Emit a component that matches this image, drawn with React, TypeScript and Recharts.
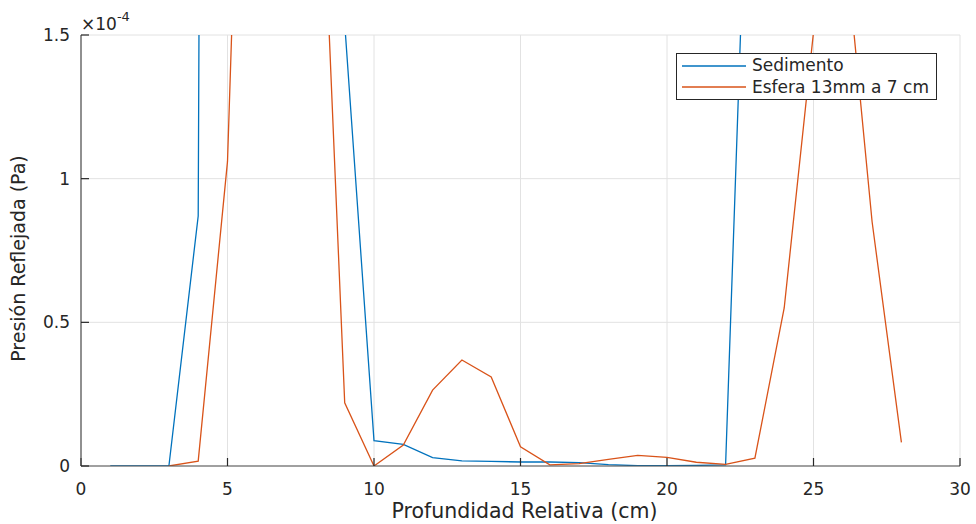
import { LineChart, Line, XAxis, YAxis, CartesianGrid, Legend, Label } from 'recharts'

// depth (cm) and reflected pressure, in units of 1e-4 Pa
const depthCm = [1, 2, 3, 4, 5, 6, 7, 8, 9, 10, 11, 12, 13, 14, 15, 16, 17, 18, 19, 20, 21, 22, 23, 24, 25, 26, 27, 28]
const sedimento = [0, 0, 0, 0.87, 25, 25, 25, 20, 1.54, 0.088, 0.075, 0.029, 0.018, 0.016, 0.014, 0.014, 0.012, 0.005, 0.001, 0.001, 0.002, 0.004, 2.95, 12, 15, 15, 10, 6]
const esfera = [null, null, 0, 0.017, 1.06, 4.2, 5, 2.65, 0.22, 0, 0.073, 0.264, 0.369, 0.31, 0.067, 0.004, 0.008, 0.023, 0.037, 0.03, 0.013, 0.006, 0.027, 0.55, 1.51, 1.91, 0.85, 0.082]
const seriesNames = ['Sedimento', 'Esfera 13mm a 7 cm']
const xTicks = [0, 5, 10, 15, 20, 25, 30]
const yTicks = [0, 0.5, 1, 1.5]

const data = depthCm.map((x, i) => ({ x, sedimento: sedimento[i], esfera: esfera[i] }))

const FONT = '"DejaVu Sans", sans-serif'
const INK = '#262626'
const AXIS = '#505050'
const GRID = '#e2e2e2'
const BLUE = '#0072BD'
const ORANGE = '#D95319'

const tickStyle = { fill: INK, fontSize: 17, fontFamily: FONT }

function LegendBox({ payload }: any) {
  const items = [...(payload ?? [])].sort((a: any, b: any) => seriesNames.indexOf(a.value) - seriesNames.indexOf(b.value))
  return (
    <div style={{ boxSizing: 'border-box', width: 261, border: `1px solid ${INK}`, background: '#fff', padding: '1px 6px 1px 5px', fontFamily: FONT, fontSize: 17, color: INK, lineHeight: '21.6px' }}>
      {items.map((e: any) => (
        <div key={e.value} style={{ display: 'flex', alignItems: 'center', whiteSpace: 'nowrap' }}>
          <svg width={64} height={4} style={{ marginRight: 6, flexShrink: 0 }}>
            <line x1={0} y1={2} x2={64} y2={2} stroke={e.color} strokeWidth={1.3} />
          </svg>
          <span>{e.value}</span>
        </div>
      ))}
    </div>
  )
}

export default function App() {
  return (
    <div style={{ position: 'absolute', left: 0, top: 0, width: 976, height: 524, background: '#fff' }}>
      <LineChart width={976} height={524} data={data} margin={{ top: 35, right: 16, bottom: 0, left: 0 }}>
        <CartesianGrid stroke={GRID} strokeWidth={1} />
        <XAxis
          dataKey="x"
          type="number"
          domain={[0, 30]}
          ticks={xTicks}
          interval={0}
          height={58}
          allowDataOverflow
          stroke={AXIS}
          strokeWidth={1.2}
          tickSize={-8}
          tickMargin={25}
          tick={tickStyle}
          tickLine={{ stroke: INK }}
        >
          <Label
            content={({ viewBox }: any) => (
              <text x={viewBox.x + viewBox.width / 2 + 4} y={viewBox.y + 52} textAnchor="middle" fill={INK} fontFamily={FONT} fontSize={20.5}>
                Profundidad Relativa (cm)
              </text>
            )}
          />
        </XAxis>
        <XAxis
          xAxisId="top"
          orientation="top"
          type="number"
          domain={[0, 30]}
          ticks={xTicks}
          interval={0}
          height={0}
          allowDataOverflow
          stroke={AXIS}
          strokeWidth={1.2}
          tickSize={-8}
          tickFormatter={() => ''}
          tickLine={{ stroke: INK }}
        />
        <YAxis
          type="number"
          domain={[0, 1.5]}
          ticks={yTicks}
          interval={0}
          width={81}
          allowDataOverflow
          stroke={AXIS}
          strokeWidth={1.2}
          tickSize={-8}
          tickMargin={19}
          tick={tickStyle}
          tickLine={{ stroke: INK }}
        >
          <Label
            content={({ viewBox }: any) => {
              const cx = viewBox.x + 25
              const cy = viewBox.y + viewBox.height / 2 + 8
              return (
                <g>
                  <text x={viewBox.x + viewBox.width} y={viewBox.y - 5} fill={INK} fontFamily={FONT} fontSize={17}>
                    ×10<tspan dy={-9} fontSize={13}>-4</tspan>
                  </text>
                  <text x={cx} y={cy} transform={`rotate(-90, ${cx}, ${cy})`} textAnchor="middle" fill={INK} fontFamily={FONT} fontSize={19}>
                    Presión Reflejada (Pa)
                  </text>
                </g>
              )
            }}
          />
        </YAxis>
        <YAxis
          yAxisId="right"
          orientation="right"
          type="number"
          domain={[0, 1.5]}
          ticks={yTicks}
          interval={0}
          width={0}
          allowDataOverflow
          stroke={AXIS}
          strokeWidth={1.2}
          tickSize={-8}
          tickFormatter={() => ''}
          tickLine={{ stroke: INK }}
        />
        <Line type="linear" dataKey="sedimento" name={seriesNames[0]} stroke={BLUE} strokeWidth={1.3} dot={false} activeDot={false} isAnimationActive={false} />
        <Line type="linear" dataKey="esfera" name={seriesNames[1]} stroke={ORANGE} strokeWidth={1.3} dot={false} activeDot={false} isAnimationActive={false} />
        <Legend
          layout="vertical"
          align="center"
          verticalAlign="middle"
          content={<LegendBox />}
          wrapperStyle={{ left: 676, top: 53, width: 261, height: 47 }}
        />
      </LineChart>
    </div>
  )
}
